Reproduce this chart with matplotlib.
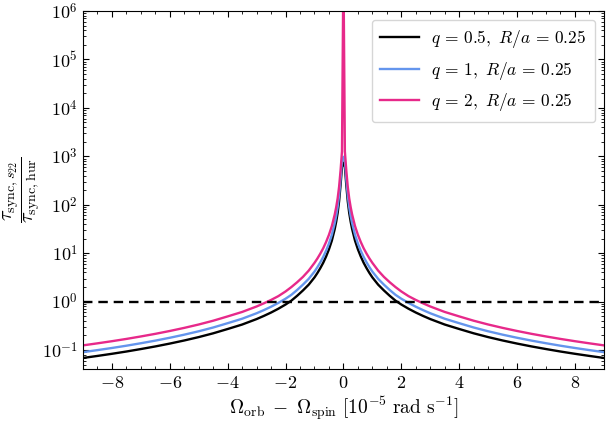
import numpy as np
import matplotlib
matplotlib.use("Agg")
import matplotlib.pyplot as plt
from matplotlib.ticker import FuncFormatter, AutoMinorLocator, LogLocator

# Right branch of each curve, in decades (log10 of the ratio).
# The chart is symmetric about 0, so the left branch mirrors these values.
x_pos = [0.0, 0.05, 0.1, 0.15, 0.2, 0.25, 0.3, 0.4, 0.5, 0.6, 0.7, 0.8, 0.9,
         1.0, 1.2, 1.4, 1.6, 1.8, 2.0, 2.25, 2.5, 2.75, 3.0, 3.5, 4.0, 4.5,
         5.0, 5.5, 6.0, 6.5, 7.0, 7.5, 8.0, 8.5, 9.0]
log_ratio_q05 = [2.87, 2.78, 2.40, 2.07, 1.83, 1.65, 1.50, 1.26, 1.08, 0.93,
                 0.80, 0.69, 0.59, 0.50, 0.35, 0.23, 0.12, 0.02, -0.06, -0.147,
                 -0.225, -0.295, -0.36, -0.473, -0.565, -0.654, -0.732, -0.802,
                 -0.866, -0.925, -0.979, -1.03, -1.077, -1.121, -1.163]
log_ratio_q1 = [2.99, 2.90, 2.52, 2.19, 1.95, 1.77, 1.62, 1.38, 1.20, 1.05,
                0.92, 0.81, 0.71, 0.62, 0.47, 0.35, 0.24, 0.14, 0.06, -0.027,
                -0.105, -0.175, -0.24, -0.353, -0.445, -0.534, -0.612, -0.682,
                -0.746, -0.805, -0.859, -0.91, -0.957, -1.001, -1.043]
log_ratio_q2 = [7.0, 3.10, 2.70, 2.37, 2.13, 1.95, 1.80, 1.56, 1.38, 1.23,
                1.10, 0.99, 0.89, 0.80, 0.64, 0.51, 0.40, 0.30, 0.21, 0.113,
                0.035, -0.035, -0.10, -0.213, -0.305, -0.394, -0.472, -0.542,
                -0.606, -0.665, -0.719, -0.77, -0.817, -0.861, -0.903]

labels = [r"$q\,=\,0.5,\ R/a\,=\,0.25$",
          r"$q\,=\,1,\ R/a\,=\,0.25$",
          r"$q\,=\,2,\ R/a\,=\,0.25$"]
colors = ["black", "#6495ed", "#e7298a"]

plt.rcParams["mathtext.fontset"] = "cm"
plt.rcParams["font.family"] = "serif"
plt.rcParams["font.serif"] = ["DejaVu Serif"]


def mirror(xs, logs):
    xs = np.asarray(xs, dtype=float)
    ys = 10.0 ** np.asarray(logs, dtype=float)
    return (np.concatenate([-xs[::-1], xs[1:]]),
            np.concatenate([ys[::-1], ys[1:]]))


fig = plt.figure(figsize=(6.1, 4.22), dpi=100)
ax = fig.add_axes([0.136, 0.126, 0.854, 0.848])

for logs, c, lab in zip([log_ratio_q05, log_ratio_q1, log_ratio_q2], colors, labels):
    xx, yy = mirror(x_pos, logs)
    ax.plot(xx, yy, color=c, lw=1.7, label=lab)

ax.axhline(1.0, color="black", lw=1.7, ls=(0, (4, 2.5)))

ax.set_yscale("log")
ax.set_xlim(-9, 9)
ax.set_ylim(0.041, 1e6)

ax.xaxis.set_major_formatter(FuncFormatter(lambda v, p: r"$%g$" % v))
ax.xaxis.set_minor_locator(AutoMinorLocator(4))
ax.yaxis.set_major_locator(LogLocator(base=10, numticks=20))
ax.yaxis.set_minor_locator(LogLocator(base=10, subs=np.arange(2, 10), numticks=20))
ax.yaxis.set_major_formatter(FuncFormatter(lambda v, p: r"$10^{%d}$" % round(np.log10(v))))

ax.tick_params(which="both", direction="in", top=True, right=True, labelsize=13)
ax.tick_params(which="major", length=4.5, width=0.8)
ax.tick_params(which="minor", length=2.5, width=0.6)

ax.set_xlabel(r"$\Omega_{\rm orb}\;-\;\Omega_{\rm spin}\ [10^{-5}\ {\rm rad\ s^{-1}}]$",
              fontsize=14, labelpad=2)
ax.set_ylabel(r"$\dfrac{\tau_{\rm sync,\mathit{s}_{22}}}{\tau_{\rm sync,hur}}$",
              fontsize=14.5)
ax.yaxis.set_label_coords(-0.076, 0.5)

ax.legend(loc="upper right", fontsize=12.5, handlelength=2.25, handletextpad=0.7,
          borderpad=0.5, labelspacing=0.55, fancybox=True)

fig.savefig("out.png", dpi=100)
